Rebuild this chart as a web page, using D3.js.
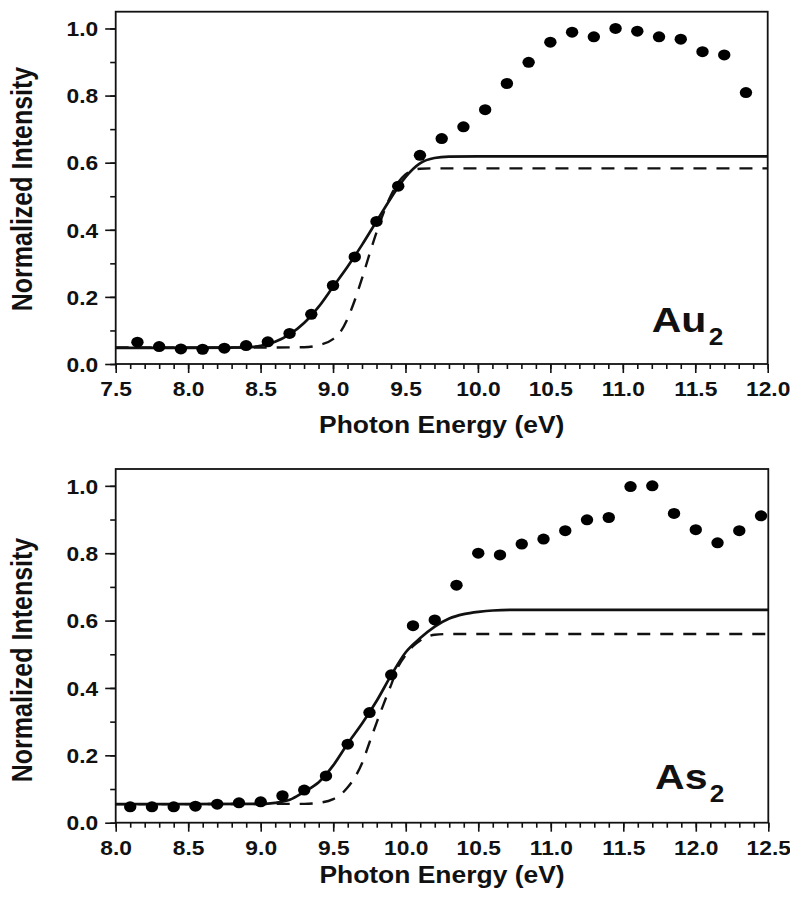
<!doctype html>
<html>
  <head>
    <meta charset="utf-8">
    <title>Au2 / As2 threshold fits</title>
    <script src="https://cdnjs.cloudflare.com/ajax/libs/d3/7.8.5/d3.min.js"></script>
    <style>
      body { margin: 0; background: #fff; }
      svg text { font-family: "Liberation Sans", Arial, sans-serif; font-weight: bold; fill: #111; }
    </style>
  </head>
  <body>
    <div id="chart"></div>
    <script>

      // --- Au2 panel: measured points ---
      const auEnergy = [7.65, 7.80, 7.95, 8.10, 8.25, 8.40, 8.55, 8.70, 8.85, 9.00, 9.15, 9.30, 9.45, 9.60, 9.75,
                        9.90, 10.05, 10.20, 10.35, 10.50, 10.65, 10.80, 10.95, 11.10, 11.25, 11.40, 11.55, 11.70, 11.85];
      const auIntensity = [0.065, 0.052, 0.045, 0.044, 0.047, 0.055, 0.066, 0.091, 0.148, 0.234, 0.319, 0.425, 0.530, 0.622, 0.672,
                           0.707, 0.758, 0.836, 0.899, 0.959, 0.989, 0.975, 1.000, 0.992, 0.975, 0.968, 0.931, 0.921, 0.809];

      // --- Au2 panel: fit curves ---
      const auFitEnergy = [7.5, 8.0, 8.3, 8.4, 8.5, 8.6, 8.7, 8.8, 8.9, 9.0, 9.1, 9.2, 9.3, 9.4, 9.5, 9.6, 9.7, 9.8, 10.0, 12.0];
      const auFitSolid  = [0.048, 0.048, 0.049, 0.050, 0.054, 0.066, 0.088, 0.122, 0.170, 0.230, 0.290, 0.355, 0.425, 0.495, 0.557, 0.598, 0.614, 0.618, 0.619, 0.619];
      const auDashEnergy = [7.5, 8.5, 8.8, 8.9, 9.0, 9.05, 9.1, 9.15, 9.2, 9.25, 9.3, 9.35, 9.4, 9.45, 9.5, 9.55, 9.6, 9.7, 12.0];
      const auFitDashed  = [0.049, 0.049, 0.050, 0.056, 0.074, 0.095, 0.135, 0.190, 0.255, 0.325, 0.392, 0.452, 0.503, 0.541, 0.565, 0.577, 0.582, 0.583, 0.583];

      // --- As2 panel: measured points ---
      const asEnergy = [8.10, 8.25, 8.40, 8.55, 8.70, 8.85, 9.00, 9.15, 9.30, 9.45, 9.60, 9.75, 9.90, 10.05, 10.20,
                        10.35, 10.50, 10.65, 10.80, 10.95, 11.10, 11.25, 11.40, 11.55, 11.70, 11.85, 12.00, 12.15, 12.30, 12.45];
      const asIntensity = [0.047, 0.047, 0.047, 0.049, 0.055, 0.059, 0.062, 0.080, 0.097, 0.139, 0.233, 0.327, 0.439, 0.585, 0.602,
                           0.705, 0.800, 0.795, 0.827, 0.842, 0.867, 0.899, 0.906, 0.998, 1.000, 0.918, 0.870, 0.831, 0.867, 0.911];

      // --- As2 panel: fit curves ---
      const asFitEnergy = [8.0, 9.0, 9.1, 9.2, 9.3, 9.4, 9.5, 9.6, 9.7, 9.8, 9.9, 10.0, 10.1, 10.2, 10.3, 10.4, 10.5, 10.6, 10.8, 12.5];
      const asFitSolid  = [0.055, 0.056, 0.059, 0.068, 0.092, 0.120, 0.170, 0.235, 0.295, 0.362, 0.438, 0.506, 0.548, 0.582, 0.606, 0.619, 0.626, 0.630, 0.632, 0.632];
      const asDashEnergy = [8.0, 9.3, 9.4, 9.5, 9.55, 9.6, 9.65, 9.7, 9.75, 9.8, 9.85, 9.9, 9.95, 10.0, 10.05, 10.1, 10.15, 10.2, 10.3, 12.5];
      const asFitDashed  = [0.055, 0.056, 0.059, 0.070, 0.083, 0.105, 0.135, 0.178, 0.238, 0.298, 0.355, 0.410, 0.465, 0.498, 0.524, 0.541, 0.552, 0.558, 0.560, 0.560];

      // tick labels
      const auXTicks = [7.5, 8.0, 8.5, 9.0, 9.5, 10.0, 10.5, 11.0, 11.5, 12.0];
      const asXTicks = [8.0, 8.5, 9.0, 9.5, 10.0, 10.5, 11.0, 11.5, 12.0, 12.5];
      const yTicks = [0.0, 0.2, 0.4, 0.6, 0.8, 1.0];

      const W = 790, H = 899;
      const textStretch = 1.14;   // the original figure is a bit wider than tall

      const svg = d3.select('#chart').append('svg')
        .attr('width', W)
        .attr('height', H);

      svg.append('rect').attr('width', W).attr('height', H).attr('fill', '#fff');

      const panels = [
        { top: 11.7, bottom: 364, left: 115.7, right: 767.7, xDomain: [7.5, 12.0], xTicks: auXTicks,
          pts: [auEnergy, auIntensity], solid: [auFitEnergy, auFitSolid], dashed: [auDashEnergy, auFitDashed],
          yTitleY: 189, xTitleY: 433, name: 'Au', nameX: 651.7, nameY: 331.7 },
        { top: 469, bottom: 822.7, left: 115.7, right: 768.3, xDomain: [8.0, 12.5], xTicks: asXTicks,
          pts: [asEnergy, asIntensity], solid: [asFitEnergy, asFitSolid], dashed: [asDashEnergy, asFitDashed],
          yTitleY: 660, xTitleY: 883, name: 'As', nameX: 655, nameY: 789 }
      ];

      panels.forEach(p => {
        const x = d3.scaleLinear().domain(p.xDomain).range([p.left, p.right]);
        const y = d3.scaleLinear().domain([0, 1.05]).range([p.bottom, p.top]);
        const g = svg.append('g');

        // minor ticks (0.1 steps)
        g.append('g')
          .attr('transform', `translate(0,${p.bottom})`)
          .call(d3.axisBottom(x).ticks(45).tickSize(5).tickFormat(''))
          .call(s => s.select('.domain').remove());
        g.append('g')
          .attr('transform', `translate(${p.left},0)`)
          .call(d3.axisLeft(y).ticks(10).tickSize(5.5).tickFormat(''))
          .call(s => s.select('.domain').remove());

        // major ticks with labels
        const xa = g.append('g')
          .attr('transform', `translate(0,${p.bottom})`)
          .call(d3.axisBottom(x).tickValues(p.xTicks).tickSize(9).tickPadding(9).tickFormat(d3.format('.1f')));
        xa.select('.domain').remove();
        xa.selectAll('text')
          .attr('transform', `scale(${textStretch},1)`)
          .style('font-size', '20px');

        const ya = g.append('g')
          .attr('transform', `translate(${p.left},0)`)
          .call(d3.axisLeft(y).tickValues(yTicks).tickSize(10.5).tickFormat(d3.format('.1f')));
        ya.select('.domain').remove();
        ya.selectAll('text')
          .attr('x', -17.4 / textStretch)
          .attr('dy', '0.36em')
          .attr('transform', `scale(${textStretch},1)`)
          .style('font-size', '20px');

        g.selectAll('.tick line').attr('stroke', '#111').attr('stroke-width', 1.6);

        // frame
        g.append('rect')
          .attr('x', p.left).attr('y', p.top)
          .attr('width', p.right - p.left).attr('height', p.bottom - p.top)
          .attr('fill', 'none')
          .attr('stroke', '#111')
          .attr('stroke-width', 1.8);

        const line = d3.line()
          .x(d => x(d[0]))
          .y(d => y(d[1]))
          .curve(d3.curveMonotoneX);

        g.append('path')
          .datum(d3.zip(p.dashed[0], p.dashed[1]))
          .attr('d', line)
          .attr('fill', 'none')
          .attr('stroke', '#111')
          .attr('stroke-width', 2.4)
          .attr('stroke-dasharray', '13,10');

        g.append('path')
          .datum(d3.zip(p.solid[0], p.solid[1]))
          .attr('d', line)
          .attr('fill', 'none')
          .attr('stroke', '#111')
          .attr('stroke-width', 2.7);

        g.selectAll('ellipse.pt')
          .data(d3.zip(p.pts[0], p.pts[1]))
          .join('ellipse')
          .attr('class', 'pt')
          .attr('cx', d => x(d[0]))
          .attr('cy', d => y(d[1]))
          .attr('rx', 6.2)
          .attr('ry', 5.5)
          .attr('fill', '#000');

        // axis titles
        svg.append('text')
          .attr('transform', `translate(32,${p.yTitleY}) scale(1.15,1) rotate(-90)`)
          .attr('text-anchor', 'middle')
          .style('font-size', '25px')
          .text('Normalized Intensity');

        svg.append('text')
          .attr('transform', `translate(${(p.left + p.right) / 2},${p.xTitleY}) scale(1.15,1)`)
          .attr('text-anchor', 'middle')
          .style('font-size', '23px')
          .text('Photon Energy (eV)');

        // species label with subscript
        const lbl = svg.append('text')
          .attr('transform', `translate(${p.nameX},${p.nameY}) scale(${textStretch},1)`)
          .style('font-size', '36px')
          .text(p.name);
        lbl.append('tspan')
          .attr('dx', 2)
          .attr('dy', 13)
          .style('font-size', '23px')
          .text('2');
      });

    </script>
  </body>
</html>
